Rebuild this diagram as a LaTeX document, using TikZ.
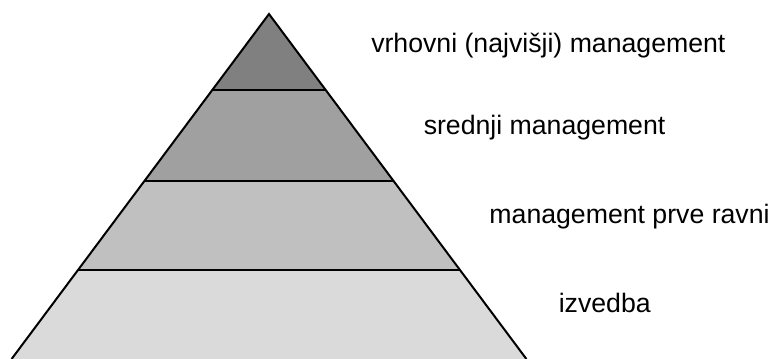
\documentclass[tikz,border=0pt]{standalone}
\usepackage{fontspec}
\setmainfont{Liberation Sans}
\definecolor{tierA}{HTML}{808080}
\definecolor{tierB}{HTML}{A0A0A0}
\definecolor{tierC}{HTML}{C0C0C0}
\definecolor{tierD}{HTML}{DADADA}
\begin{document}
\begin{tikzpicture}[x=0.75pt,y=-0.75pt,
  edge/.style={draw=black,line width=1.5pt,line join=miter},
  label/.style={anchor=base west,inner sep=0pt,font=\fontsize{20}{24}\selectfont}]
\useasboundingbox (0,0) rectangle (772,358);
% corner points of the pyramid and its tiers
\coordinate (apex) at (269,14);
\coordinate (l1) at (212.3,90);  \coordinate (r1) at (325.7,90);
\coordinate (l2) at (144.4,181); \coordinate (r2) at (393.6,181);
\coordinate (l3) at (78,270);    \coordinate (r3) at (460,270);
\coordinate (l4) at (11.6,359);  \coordinate (r4) at (526.4,359);
% tier fills
\fill[tierA] (apex) -- (r1) -- (l1) -- cycle;
\fill[tierB] (l1) -- (r1) -- (r2) -- (l2) -- cycle;
\fill[tierC] (l2) -- (r2) -- (r3) -- (l3) -- cycle;
\fill[tierD] (l3) -- (r3) -- (r4) -- (l4) -- cycle;
% dividing lines and outline
\draw[edge] (l1) -- (r1);
\draw[edge] (l2) -- (r2);
\draw[edge] (l3) -- (r3);
\draw[edge] (l4) -- (apex) -- (r4);
% tier labels
\node[label] (top) at (371,52.3) {vrhovni (najvišji) management};
\node[label] (mid) at (423.5,134.3) {srednji management};
\node[label] (first) at (489.2,223) {management prve ravni};
\node[label] (base) at (558.5,312) {izvedba};
\end{tikzpicture}
\end{document}
